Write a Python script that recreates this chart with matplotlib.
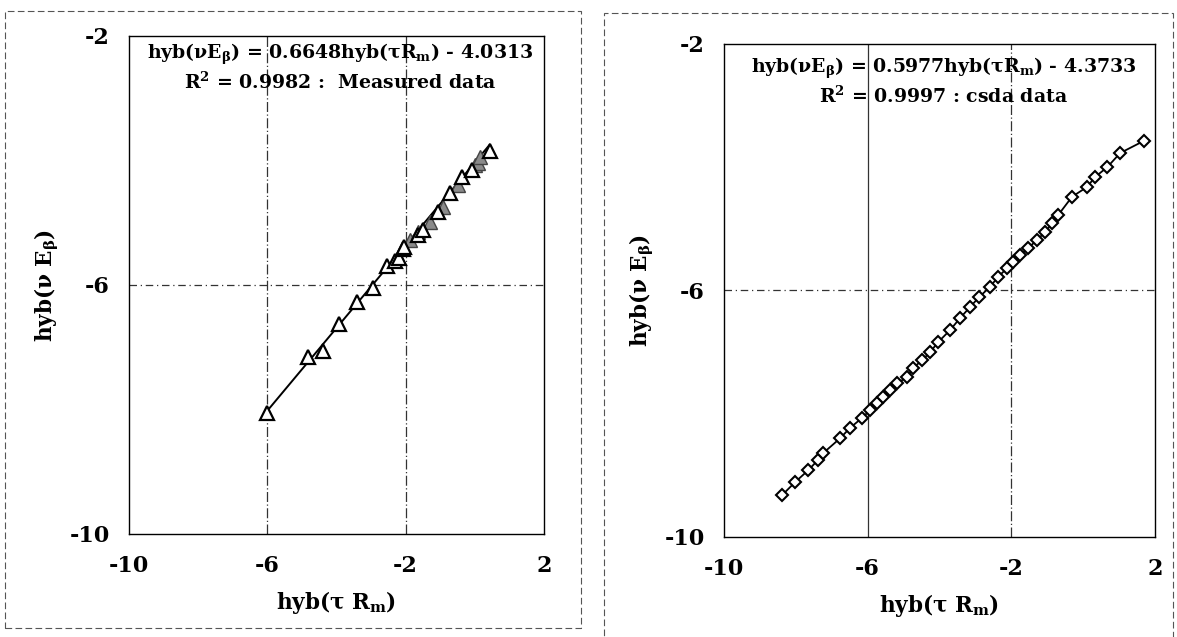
import matplotlib.pyplot as plt
import numpy as np
from matplotlib.patches import Rectangle

# measured data (open triangles)
meas_x = [-6.01, -4.83, -4.39, -3.93, -3.41, -2.95, -2.54, -2.31, -2.20, -2.08,
          -2.05, -1.65, -1.50, -1.07, -0.72, -0.38, -0.09, 0.43]
meas_y = [-8.06, -7.16, -7.06, -6.63, -6.27, -6.05, -5.69, -5.61, -5.57, -5.42,
          -5.39, -5.20, -5.12, -4.83, -4.52, -4.27, -4.15, -3.85]
# measured data (grey triangles)
grey_x = [-1.88, -1.65, -1.30, -0.92, -0.49, 0.00, 0.09, 0.14]
grey_y = [-5.28, -5.15, -4.99, -4.75, -4.39, -4.07, -4.04, -3.94]
fit1 = (0.6648, -4.0313)

# csda data
csda_x = [-8.38, -8.02, -7.66, -7.38, -7.24, -6.77, -6.49, -6.16, -5.93, -5.74,
          -5.57, -5.38, -5.18, -4.90, -4.74, -4.48, -4.26, -4.04, -3.70, -3.43,
          -3.15, -2.90, -2.59, -2.37, -2.12, -1.95, -1.75, -1.53, -1.28, -1.06,
          -0.86, -0.70, -0.31, 0.11, 0.33, 0.67, 1.03, 1.70]
csda_y = [-9.32, -9.11, -8.92, -8.75, -8.64, -8.40, -8.23, -8.07, -7.94, -7.83,
          -7.73, -7.62, -7.50, -7.41, -7.26, -7.13, -7.00, -6.84, -6.64, -6.45,
          -6.27, -6.11, -5.94, -5.78, -5.64, -5.54, -5.43, -5.31, -5.18, -5.05,
          -4.91, -4.78, -4.48, -4.32, -4.16, -4.00, -3.77, -3.57]

ticks_x = [-10, -6, -2, 2]
ticks_y = [-10, -6, -2]

plt.rcParams["font.family"] = "DejaVu Serif"
plt.rcParams["font.weight"] = "bold"
plt.rcParams["axes.unicode_minus"] = False
plt.rcParams["mathtext.fontset"] = "custom"
plt.rcParams["mathtext.rm"] = "DejaVu Serif:bold"
plt.rcParams["mathtext.it"] = "DejaVu Serif:bold"
plt.rcParams["mathtext.default"] = "rm"

fig = plt.figure(figsize=(11.77, 6.37), dpi=100)
ax1 = fig.add_axes([0.1096, 0.1617, 0.3526, 0.7818])
ax2 = fig.add_axes([0.6151, 0.157, 0.3662, 0.774])

# dashed outer frames
fig.patches.append(Rectangle((0.004, 0.014), 0.49, 0.968, transform=fig.transFigure,
                             fill=False, ls=(0, (6, 3)), lw=0.8, ec="#555555"))
fig.patches.append(Rectangle((0.513, -0.01), 0.484, 0.99, transform=fig.transFigure,
                             fill=False, ls=(0, (6, 3)), lw=0.8, ec="#555555"))


def style(ax, solid_left=False):
    ax.set_xlim(-10, 2)
    ax.set_ylim(-10, -2)
    ax.set_xticks(ticks_x)
    ax.set_yticks(ticks_y)
    ax.tick_params(length=0, labelsize=16)
    ax.tick_params(axis="x", pad=15)
    ax.tick_params(axis="y", pad=14)
    for lab in ax.get_xticklabels() + ax.get_yticklabels():
        lab.set_fontweight("bold")
    ax.axvline(-6, color="#333333", lw=0.9, ls="-" if solid_left else (0, (8, 2, 1, 2)), zorder=0)
    ax.axvline(-2, color="#333333", lw=0.9, ls=(0, (8, 2, 1, 2)), zorder=0)
    ax.axhline(-6, color="#333333", lw=0.9, ls=(0, (6, 3, 1, 3)), zorder=0)
    for s in ax.spines.values():
        s.set_linewidth(1.0)
    ax.set_xlabel(r"hyb($\tau$ R$_m$)", fontsize=15.5, fontweight="bold", labelpad=9)
    ax.set_ylabel(r"hyb($\nu$ E$_\beta$)", fontsize=15.5, fontweight="bold", labelpad=6)


style(ax1)
xf = np.array([min(meas_x), max(meas_x)])
ax1.plot(xf, fit1[0] * xf + fit1[1], color="black", lw=1.4, zorder=2)
ax1.plot(grey_x, grey_y, ls="none", marker="^", ms=9.5, mfc="#8a8a8a", mec="#444444",
         mew=1.0, zorder=3)
ax1.plot(meas_x, meas_y, ls="none", marker="^", ms=9.5, mfc="white", mec="black",
         mew=1.6, zorder=4)
ax1.text(0.508, 0.964, r"hyb($\nu$E$_\beta$) = 0.6648hyb($\tau$R$_m$) - 4.0313",
         transform=ax1.transAxes, ha="center", va="center", fontsize=13.6, fontweight="bold")
ax1.text(0.508, 0.908, r"R$^2$ = 0.9982 :  Measured data",
         transform=ax1.transAxes, ha="center", va="center", fontsize=13.6, fontweight="bold")

style(ax2, solid_left=True)
ax2.plot(csda_x, csda_y, color="black", lw=1.3, marker="D", ms=6.5, mfc="white",
         mec="black", mew=1.5, zorder=3)
ax2.text(0.51, 0.951, r"hyb($\nu$E$_\beta$) = 0.5977hyb($\tau$R$_m$) - 4.3733",
         transform=ax2.transAxes, ha="center", va="center", fontsize=13.6, fontweight="bold")
ax2.text(0.51, 0.895, r"R$^2$ = 0.9997 : csda data",
         transform=ax2.transAxes, ha="center", va="center", fontsize=13.6, fontweight="bold")

fig.savefig("out.png", dpi=100)
